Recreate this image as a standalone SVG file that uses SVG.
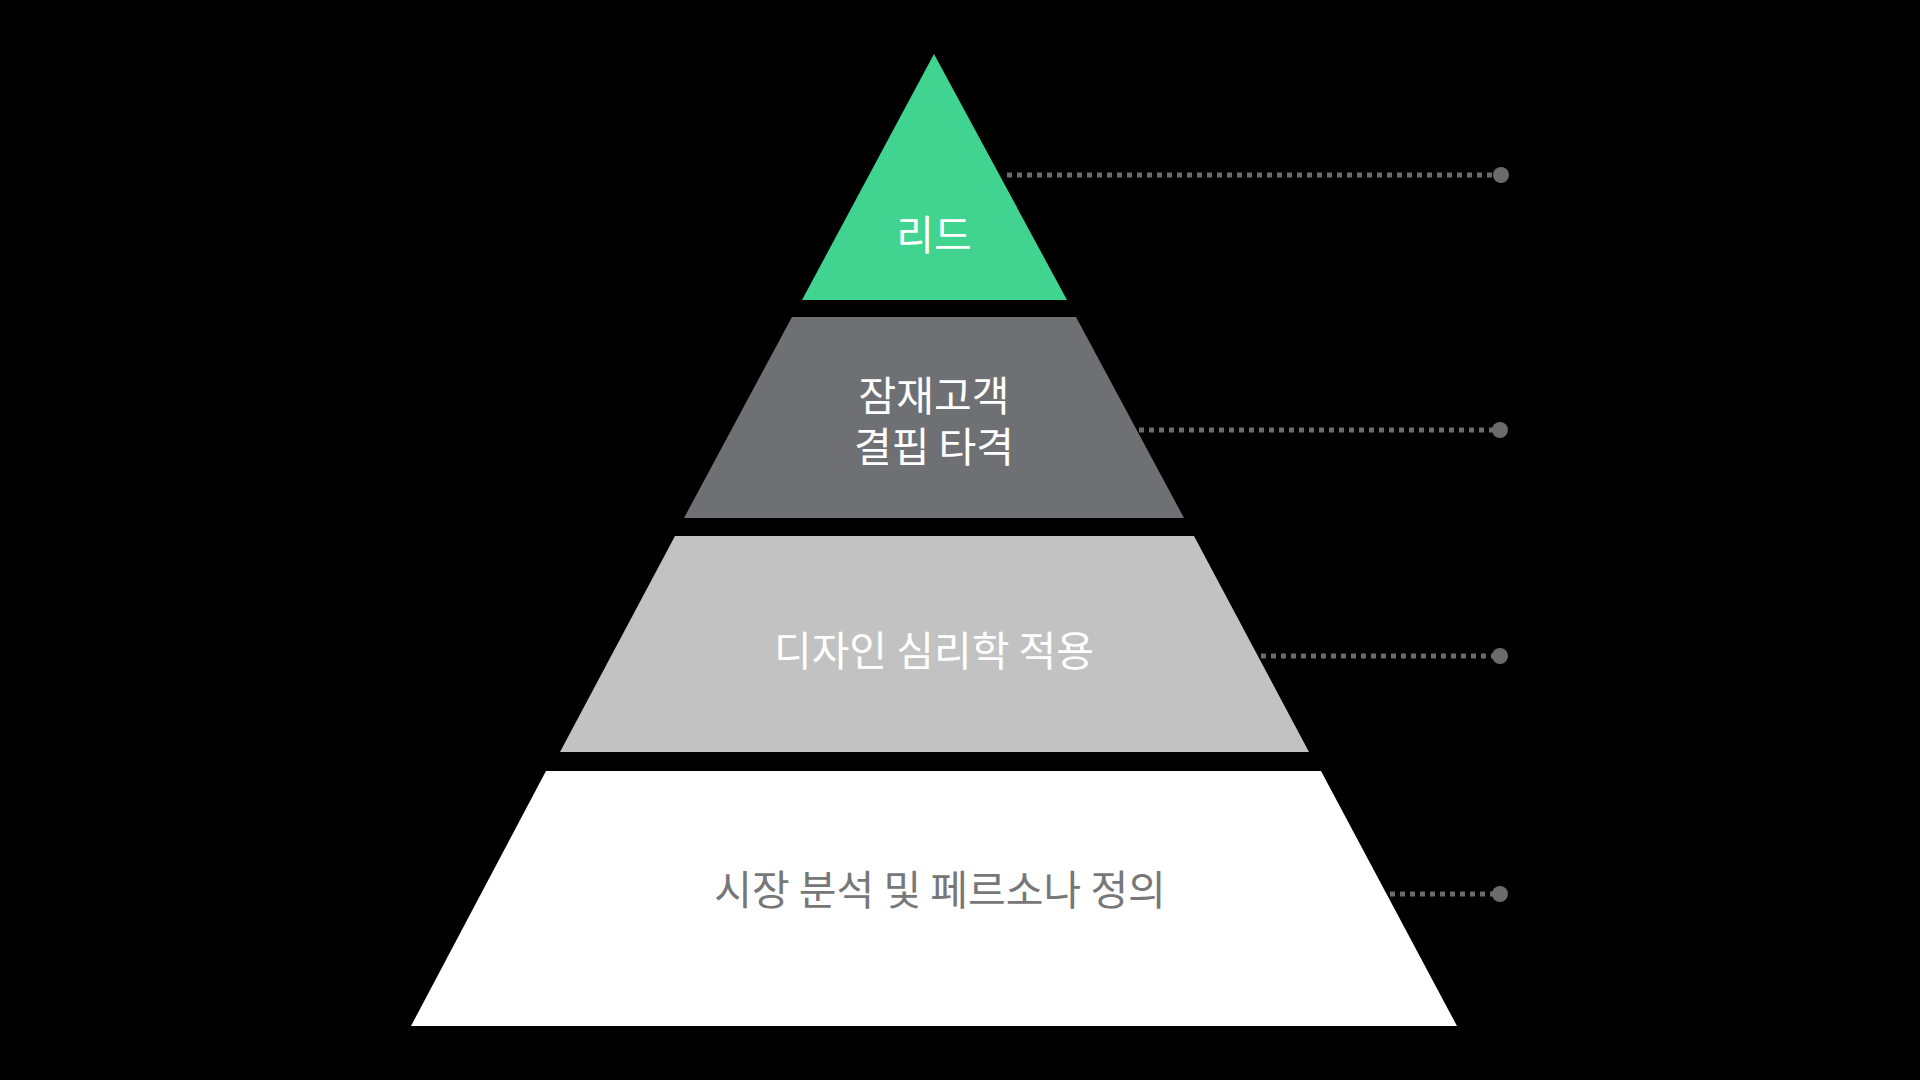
<svg xmlns="http://www.w3.org/2000/svg" width="1920" height="1080" viewBox="0 0 1920 1080">
<style>
.t{font-family:"Noto Sans CJK KR","Noto Sans",sans-serif;font-weight:400;font-size:41px;text-anchor:middle;dominant-baseline:central}
.c{stroke:#6b6b6b;stroke-width:5;stroke-dasharray:5 5;fill:none}
.d{fill:#6b6b6b}
</style>
<rect width="1920" height="1080" fill="#000"/>
<g id="connectors">
<line class="c" x1="1007" y1="175" x2="1500" y2="175"/><circle class="d" cx="1501" cy="175" r="8"/>
<line class="c" x1="1139" y1="430" x2="1500" y2="430"/><circle class="d" cx="1500" cy="430" r="8"/>
<line class="c" x1="1261" y1="656" x2="1500" y2="656"/><circle class="d" cx="1500" cy="656" r="8"/>
<line class="c" x1="1390" y1="894" x2="1500" y2="894"/><circle class="d" cx="1500" cy="894" r="8"/>
</g>
<g id="n1"><polygon points="934,54 1067,300 802,300" fill="#41D390"/><text class="t" x="934" y="232" fill="#fff">리드</text></g>
<g id="n2"><polygon points="792,317 1076,317 1184,518 684,518" fill="#6f7073"/><text class="t" x="934" y="393" fill="#fff">잠재고객</text><text class="t" x="934" y="444" fill="#fff">결핍 타격</text></g>
<g id="n3"><polygon points="675,536 1194,536 1309,752 560,752" fill="#c2c2c2"/><text class="t" x="934" y="648" fill="#fff">디자인 심리학 적용</text></g>
<g id="n4"><polygon points="546,771 1321,771 1457,1026 411,1026" fill="#fff"/><text class="t" x="940" y="887" fill="#777">시장 분석 및 페르소나 정의</text></g>
</svg>
